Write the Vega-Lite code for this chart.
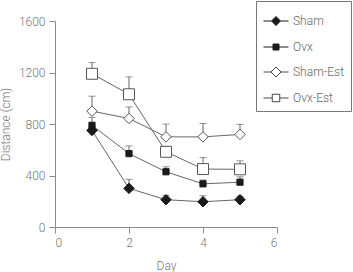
{
  "$schema": "https://vega.github.io/schema/vega-lite/v6.json",
  "width": 222,
  "height": 206,
  "autosize": "none",
  "padding": {"left": 55, "top": 21, "right": 76, "bottom": 45},
  "background": "white",
  "data": {
    "values": [
      {"group": "Sham", "day": 1, "distance": 750, "upper": 780},
      {"group": "Sham", "day": 2, "distance": 300, "upper": 370},
      {"group": "Sham", "day": 3, "distance": 212, "upper": 245},
      {"group": "Sham", "day": 4, "distance": 196, "upper": 243},
      {"group": "Sham", "day": 5, "distance": 212, "upper": 238},
      {"group": "Ovx", "day": 1, "distance": 790, "upper": 851},
      {"group": "Ovx", "day": 2, "distance": 570, "upper": 630},
      {"group": "Ovx", "day": 3, "distance": 429, "upper": 468},
      {"group": "Ovx", "day": 4, "distance": 335, "upper": 365},
      {"group": "Ovx", "day": 5, "distance": 348, "upper": 390},
      {"group": "Sham-Est", "day": 1, "distance": 900, "upper": 1016},
      {"group": "Sham-Est", "day": 2, "distance": 843, "upper": 933},
      {"group": "Sham-Est", "day": 3, "distance": 700, "upper": 799},
      {"group": "Sham-Est", "day": 4, "distance": 700, "upper": 804},
      {"group": "Sham-Est", "day": 5, "distance": 719, "upper": 797},
      {"group": "Ovx-Est", "day": 1, "distance": 1190, "upper": 1277},
      {"group": "Ovx-Est", "day": 2, "distance": 1031, "upper": 1166},
      {"group": "Ovx-Est", "day": 3, "distance": 584, "upper": 620},
      {"group": "Ovx-Est", "day": 4, "distance": 450, "upper": 540},
      {"group": "Ovx-Est", "day": 5, "distance": 448, "upper": 514}
    ]
  },
  "config": {
    "view": {"stroke": null},
    "font": "Roboto",
    "axis": {
      "grid": false,
      "domainColor": "#8a8a8a",
      "tickColor": "#8a8a8a",
      "tickSize": 6,
      "labelColor": "#777777",
      "titleColor": "#777777",
      "labelFont": "Roboto",
      "titleFont": "Roboto",
      "labelFontSize": 12,
      "titleFontSize": 12,
      "labelFontWeight": 300,
      "titleFontWeight": 300,
      "labelPadding": 4
    },
    "legend": {
      "labelFont": "Roboto",
      "labelFontWeight": 300,
      "symbolOpacity": 1,
      "symbolStrokeWidth": 1
    }
  },
  "encoding": {
    "x": {
      "field": "day",
      "type": "quantitative",
      "title": "Day",
      "scale": {"domain": [0, 6]},
      "axis": {"values": [0, 2, 4, 6], "titlePadding": 12}
    },
    "y": {
      "field": "distance",
      "type": "quantitative",
      "title": "Distance (cm)",
      "scale": {"domain": [0, 1600]},
      "axis": {"values": [0, 400, 800, 1200, 1600], "format": "d", "titlePadding": 6}
    }
  },
  "layer": [
    {
      "mark": {"type": "line", "color": "#666666", "strokeWidth": 1},
      "encoding": {"detail": {"field": "group"}}
    },
    {
      "mark": {"type": "rule", "color": "#666666", "strokeWidth": 1},
      "encoding": {"y2": {"field": "upper"}}
    },
    {
      "mark": {"type": "tick", "orient": "horizontal", "color": "#666666", "size": 7, "thickness": 1},
      "encoding": {"y": {"field": "upper", "type": "quantitative"}}
    },
    {
      "transform": [{"filter": {"field": "group", "equal": "Sham"}}],
      "mark": {"type": "point", "shape": "diamond", "filled": true, "color": "#1a1a1a", "opacity": 1, "size": 110, "stroke": "#1a1a1a", "strokeWidth": 1}
    },
    {
      "transform": [{"filter": {"field": "group", "equal": "Ovx"}}],
      "mark": {"type": "point", "shape": "square", "filled": true, "color": "#1a1a1a", "opacity": 1, "size": 38, "stroke": "#1a1a1a", "strokeWidth": 1}
    },
    {
      "transform": [{"filter": {"field": "group", "equal": "Sham-Est"}}],
      "mark": {"type": "point", "shape": "diamond", "fill": "#ffffff", "fillOpacity": 1, "opacity": 1, "size": 110, "stroke": "#555555", "strokeWidth": 1}
    },
    {
      "transform": [{"filter": {"field": "group", "equal": "Ovx-Est"}}],
      "mark": {"type": "point", "shape": "square", "fill": "#ffffff", "fillOpacity": 1, "opacity": 1, "size": 120, "stroke": "#555555", "strokeWidth": 1}
    },
    {
      "mark": {"type": "point", "opacity": 0},
      "encoding": {
        "shape": {
          "field": "group",
          "type": "nominal",
          "scale": {
            "domain": ["Sham", "Ovx", "Sham-Est", "Ovx-Est"],
            "range": [
              "M-1,0L-0.36,0M0.36,0L1,0M0,-0.36L0.36,0L0,0.36L-0.36,0Z",
              "M-1,0L-0.24,0M0.24,0L1,0M-0.24,-0.24L0.24,-0.24L0.24,0.24L-0.24,0.24Z",
              "M-1,0L-0.4,0M0.4,0L1,0M0,-0.4L0.4,0L0,0.4L-0.4,0Z",
              "M-1,0L-0.3,0M0.3,0L1,0M-0.3,-0.3L0.3,-0.3L0.3,0.3L-0.3,0.3Z"
            ]
          },
          "legend": {
            "title": null,
            "orient": "none",
            "legendX": 201,
            "legendY": -20,
            "strokeColor": "#777777",
            "padding": 7,
            "rowPadding": 6,
            "labelFontSize": 12,
            "labelColor": "#666666",
            "labelOffset": 4,
            "symbolSize": 625,
            "symbolOpacity": 1,
            "symbolStrokeWidth": 1
          }
        },
        "fill": {
          "field": "group",
          "type": "nominal",
          "scale": {
            "domain": ["Sham", "Ovx", "Sham-Est", "Ovx-Est"],
            "range": ["#1a1a1a", "#1a1a1a", "#ffffff", "#ffffff"]
          }
        },
        "stroke": {
          "field": "group",
          "type": "nominal",
          "scale": {
            "domain": ["Sham", "Ovx", "Sham-Est", "Ovx-Est"],
            "range": ["#1a1a1a", "#1a1a1a", "#444444", "#444444"]
          }
        }
      }
    }
  ]
}
